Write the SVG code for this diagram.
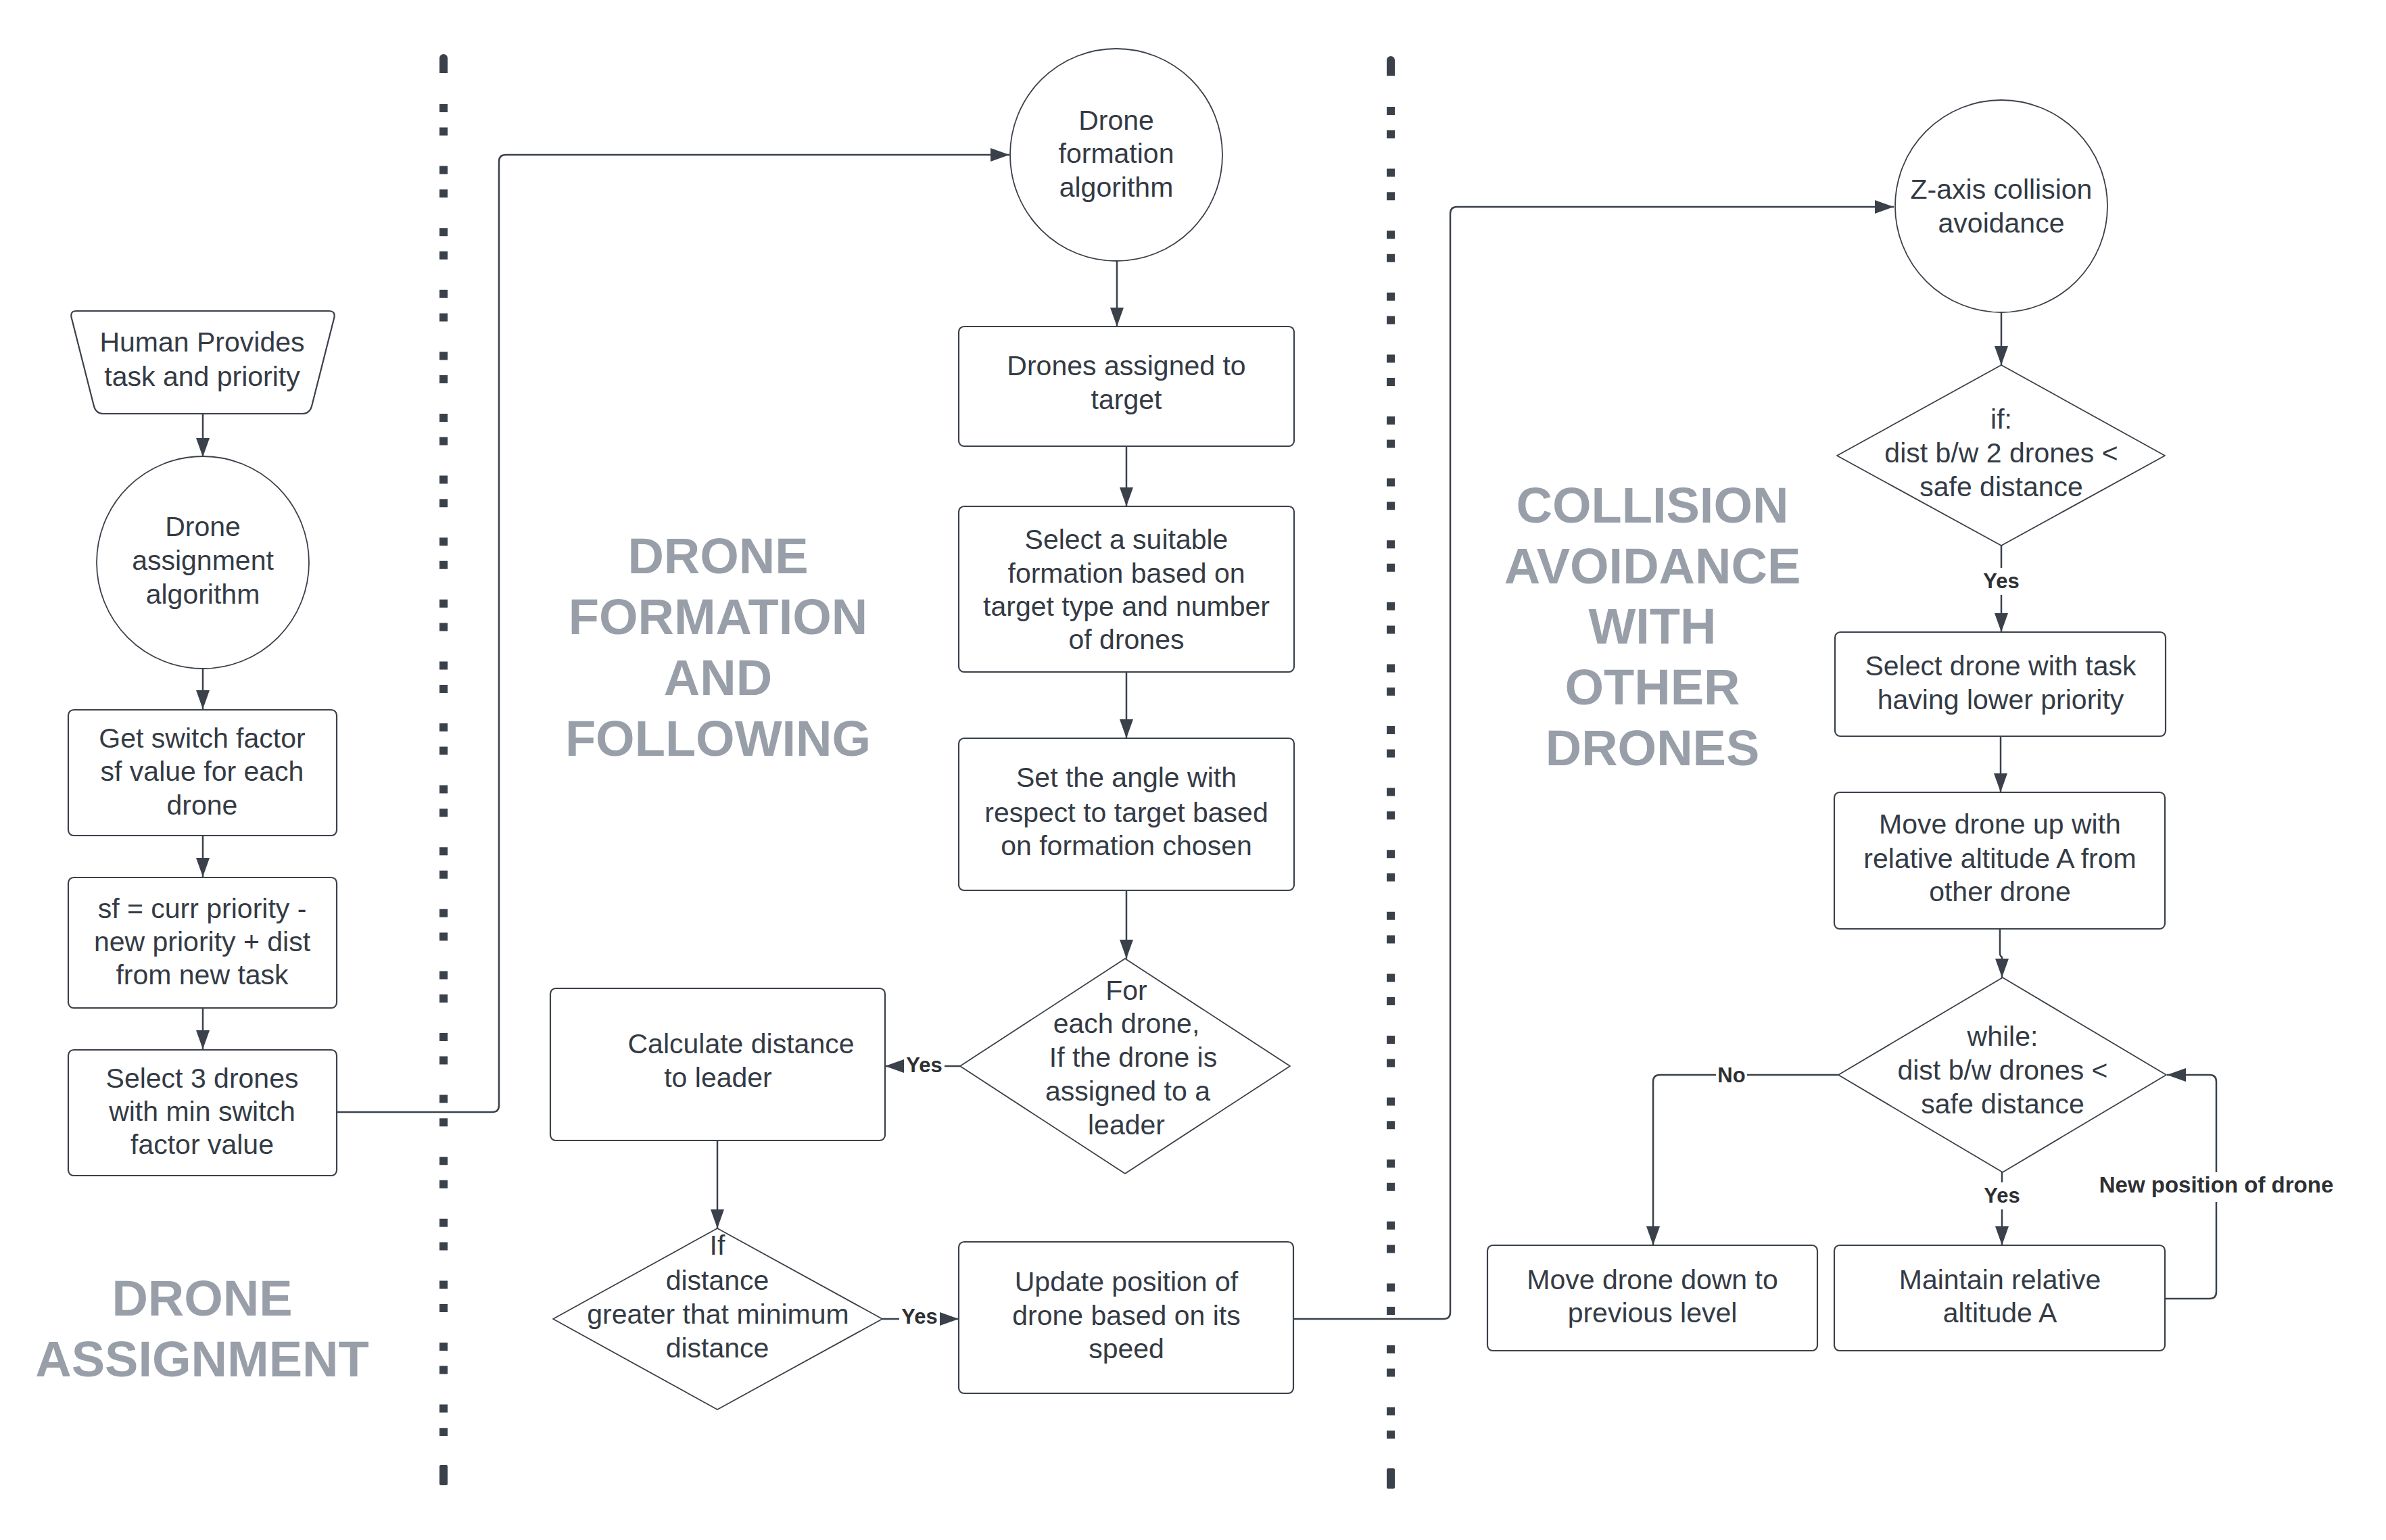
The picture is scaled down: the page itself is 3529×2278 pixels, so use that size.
<svg xmlns="http://www.w3.org/2000/svg" width="3529" height="2278" viewBox="0 0 3529 2278">
<defs>
<style>
.shape{fill:#ffffff;stroke:#3a414a;stroke-width:2.2;stroke-linejoin:round}
.thin{fill:#ffffff;stroke:#3a414a;stroke-width:1.8;stroke-linejoin:round}
.t{font-family:"Liberation Sans",Arial,sans-serif;font-size:41px;fill:#343b45;text-anchor:middle}
.title{font-family:"Liberation Sans",Arial,sans-serif;font-size:74px;font-weight:bold;fill:#989fa9;text-anchor:middle}
.lbl{font-family:"Liberation Sans",Arial,sans-serif;font-size:31px;font-weight:bold;fill:#2e3033;text-anchor:middle}
.lblw{font-family:"Liberation Sans",Arial,sans-serif;font-size:33px;font-weight:bold;fill:#2e3033;text-anchor:middle}
.c{fill:none;stroke:#3a414a;stroke-width:2.5;stroke-linejoin:round}
.bg{fill:#ffffff}
.dots{stroke:#3a414a;stroke-width:12;stroke-dasharray:12 22.6 12 45}
.cap{fill:#3a414a}
</style>
<marker id="arr" markerUnits="userSpaceOnUse" markerWidth="30" markerHeight="22" refX="28" refY="10" orient="auto">
<path d="M0,0 L28,10 L0,20 Z" fill="#3a414a"/>
</marker>
</defs>
<rect width="3529" height="2278" fill="#ffffff"/>

<g id="dividers">
<path class="cap" d="M650,108 V86 A6,6 0 0 1 662,86 V108 Z"/>
<line class="dots" x1="656" y1="154" x2="656" y2="2124"/>
<rect class="cap" x="650" y="2167" width="12" height="30" rx="2"/>
<path class="cap" d="M2051,112 V89 A6,6 0 0 1 2063,89 V112 Z"/>
<line class="dots" x1="2057" y1="158" x2="2057" y2="2128"/>
<rect class="cap" x="2051" y="2172" width="12" height="30" rx="2"/>
</g>

<g id="titles">
<text class="title" x="299" y="1946">DRONE</text>
<text class="title" x="299" y="2036">ASSIGNMENT</text>
<text class="title" x="1062" y="848">DRONE</text>
<text class="title" x="1062" y="938">FORMATION</text>
<text class="title" x="1062" y="1028">AND</text>
<text class="title" x="1062" y="1118">FOLLOWING</text>
<text class="title" x="2444" y="773">COLLISION</text>
<text class="title" x="2444" y="863">AVOIDANCE</text>
<text class="title" x="2444" y="952">WITH</text>
<text class="title" x="2444" y="1042">OTHER</text>
<text class="title" x="2444" y="1132">DRONES</text>
</g>

<g id="connectors">
<line class="c" x1="300" y1="612" x2="300" y2="676" marker-end="url(#arr)"/>
<line class="c" x1="300" y1="989" x2="300" y2="1049" marker-end="url(#arr)"/>
<line class="c" x1="300" y1="1236" x2="300" y2="1297" marker-end="url(#arr)"/>
<line class="c" x1="300" y1="1491" x2="300" y2="1552" marker-end="url(#arr)"/>
<path class="c" d="M498,1645 H728 Q738,1645 738,1635 V239 Q738,229 748,229 H1493" marker-end="url(#arr)"/>
<line class="c" x1="1652" y1="386" x2="1652" y2="483" marker-end="url(#arr)"/>
<line class="c" x1="1666" y1="660" x2="1666" y2="749" marker-end="url(#arr)"/>
<line class="c" x1="1666" y1="994" x2="1666" y2="1092" marker-end="url(#arr)"/>
<line class="c" x1="1666" y1="1317" x2="1666" y2="1418" marker-end="url(#arr)"/>
<line class="c" x1="1420" y1="1577" x2="1309" y2="1577" marker-end="url(#arr)"/>
<rect class="bg" x="1337" y="1556" width="60" height="40"/>
<text class="lbl" x="1367" y="1586">Yes</text>
<line class="c" x1="1061" y1="1687" x2="1061" y2="1817" marker-end="url(#arr)"/>
<line class="c" x1="1305" y1="1951" x2="1418" y2="1951" marker-end="url(#arr)"/>
<rect class="bg" x="1330" y="1928" width="60" height="40"/>
<text class="lbl" x="1360" y="1958">Yes</text>
<path class="c" d="M1913,1951 H2135 Q2145,1951 2145,1941 V316 Q2145,306 2155,306 H2801" marker-end="url(#arr)"/>
<line class="c" x1="2960" y1="462" x2="2960" y2="540" marker-end="url(#arr)"/>
<line class="c" x1="2960" y1="807" x2="2960" y2="935" marker-end="url(#arr)"/>
<rect class="bg" x="2930" y="840" width="60" height="40"/>
<text class="lbl" x="2960" y="870">Yes</text>
<line class="c" x1="2959" y1="1089" x2="2959" y2="1172" marker-end="url(#arr)"/>
<path class="c" d="M2958,1374 V1410 Q2958,1414 2961,1416 V1446" marker-end="url(#arr)"/>
<path class="c" d="M2719,1590 H2455 Q2445,1590 2445,1600 V1842" marker-end="url(#arr)"/>
<rect class="bg" x="2538" y="1570" width="46" height="40"/>
<text class="lbl" x="2561" y="1601">No</text>
<line class="c" x1="2961" y1="1734" x2="2961" y2="1842" marker-end="url(#arr)"/>
<rect class="bg" x="2931" y="1749" width="60" height="40"/>
<text class="lbl" x="2961" y="1779">Yes</text>
<path class="c" d="M3202,1921 H3268 Q3278,1921 3278,1911 V1600 Q3278,1590 3268,1590 H3205" marker-end="url(#arr)"/>
<rect class="bg" x="3095" y="1734" width="366" height="44"/>
<text class="lblw" x="3278" y="1764">New position of drone</text>
</g>

<g id="human-provides">
<path class="shape" d="M113,460 H486 Q497,460 494,471 L461,601 Q458,612 447,612 H153 Q142,612 139,601 L106,471 Q103,460 113,460 Z"/>
<text class="t" x="299" y="520">Human Provides</text>
<text class="t" x="299" y="571">task and priority</text>
</g>
<g id="drone-assignment-algorithm">
<circle class="thin" cx="300" cy="832" r="157"/>
<text class="t" x="300" y="793">Drone</text>
<text class="t" x="300" y="843">assignment</text>
<text class="t" x="300" y="893">algorithm</text>
</g>
<g id="get-switch-factor">
<rect class="shape" x="101" y="1050" width="397" height="186" rx="8"/>
<text class="t" x="299" y="1106">Get switch factor</text>
<text class="t" x="299" y="1155">sf value for each</text>
<text class="t" x="299" y="1205">drone</text>
</g>
<g id="sf-formula">
<rect class="shape" x="101" y="1298" width="397" height="193" rx="8"/>
<text class="t" x="299" y="1358">sf = curr priority -</text>
<text class="t" x="299" y="1407">new priority + dist</text>
<text class="t" x="299" y="1456">from new task</text>
</g>
<g id="select-3-drones">
<rect class="shape" x="101" y="1553" width="397" height="186" rx="8"/>
<text class="t" x="299" y="1609">Select 3 drones</text>
<text class="t" x="299" y="1658">with min switch</text>
<text class="t" x="299" y="1707">factor value</text>
</g>

<g id="drone-formation-algorithm">
<circle class="thin" cx="1651" cy="229" r="157"/>
<text class="t" x="1651" y="192">Drone</text>
<text class="t" x="1651" y="241">formation</text>
<text class="t" x="1651" y="291">algorithm</text>
</g>
<g id="drones-assigned">
<rect class="shape" x="1418" y="483" width="496" height="177" rx="8"/>
<text class="t" x="1666" y="555">Drones assigned to</text>
<text class="t" x="1666" y="605">target</text>
</g>
<g id="select-formation">
<rect class="shape" x="1418" y="749" width="496" height="245" rx="8"/>
<text class="t" x="1666" y="812">Select a suitable</text>
<text class="t" x="1666" y="862">formation based on</text>
<text class="t" x="1666" y="911">target type and number</text>
<text class="t" x="1666" y="960">of drones</text>
</g>
<g id="set-angle">
<rect class="shape" x="1418" y="1092" width="496" height="225" rx="8"/>
<text class="t" x="1666" y="1164">Set the angle with</text>
<text class="t" x="1666" y="1216">respect to target based</text>
<text class="t" x="1666" y="1265">on formation chosen</text>
</g>
<g id="for-each-drone">
<path class="thin" d="M1664,1418 L1908,1577 L1664,1736 L1420,1577 Z"/>
<text class="t" x="1666" y="1479">For</text>
<text class="t" x="1666" y="1528">each drone,</text>
<text class="t" x="1676" y="1578">If the drone is</text>
<text class="t" x="1668" y="1628">assigned to a</text>
<text class="t" x="1666" y="1678">leader</text>
</g>
<g id="calculate-distance">
<rect class="shape" x="814" y="1462" width="495" height="225" rx="8"/>
<text class="t" x="1096" y="1558">Calculate distance</text>
<text class="t" x="1062" y="1608">to leader</text>
</g>
<g id="if-distance">
<path class="thin" d="M1061,1817 L1305,1951 L1061,2085 L818,1951 Z"/>
<text class="t" x="1061" y="1856">If</text>
<text class="t" x="1061" y="1908">distance</text>
<text class="t" x="1062" y="1958">greater that minimum</text>
<text class="t" x="1061" y="2008">distance</text>
</g>
<g id="update-position">
<rect class="shape" x="1418" y="1837" width="495" height="224" rx="8"/>
<text class="t" x="1666" y="1910">Update position of</text>
<text class="t" x="1666" y="1960">drone based on its</text>
<text class="t" x="1666" y="2009">speed</text>
</g>

<g id="z-axis">
<circle class="thin" cx="2960" cy="305" r="157"/>
<text class="t" x="2960" y="294">Z-axis collision</text>
<text class="t" x="2960" y="344">avoidance</text>
</g>
<g id="if-dist">
<path class="thin" d="M2960,540 L3202,674 L2960,807 L2717,674 Z"/>
<text class="t" x="2960" y="634">if:</text>
<text class="t" x="2960" y="684">dist b/w 2 drones &lt;</text>
<text class="t" x="2960" y="734">safe distance</text>
</g>
<g id="select-lower-priority">
<rect class="shape" x="2714" y="935" width="489" height="154" rx="8"/>
<text class="t" x="2959" y="999">Select drone with task</text>
<text class="t" x="2959" y="1049">having lower priority</text>
</g>
<g id="move-up">
<rect class="shape" x="2713" y="1172" width="489" height="202" rx="8"/>
<text class="t" x="2958" y="1233">Move drone up with</text>
<text class="t" x="2958" y="1284">relative altitude A from</text>
<text class="t" x="2958" y="1333">other drone</text>
</g>
<g id="while-dist">
<path class="thin" d="M2962,1446 L3204,1590 L2962,1734 L2719,1590 Z"/>
<text class="t" x="2962" y="1547">while:</text>
<text class="t" x="2962" y="1597">dist b/w drones &lt;</text>
<text class="t" x="2962" y="1647">safe distance</text>
</g>
<g id="move-down">
<rect class="shape" x="2200" y="1842" width="488" height="156" rx="8"/>
<text class="t" x="2444" y="1907">Move drone down to</text>
<text class="t" x="2444" y="1956">previous level</text>
</g>
<g id="maintain-altitude">
<rect class="shape" x="2713" y="1842" width="489" height="156" rx="8"/>
<text class="t" x="2958" y="1907">Maintain relative</text>
<text class="t" x="2958" y="1956">altitude A</text>
</g>
</svg>
